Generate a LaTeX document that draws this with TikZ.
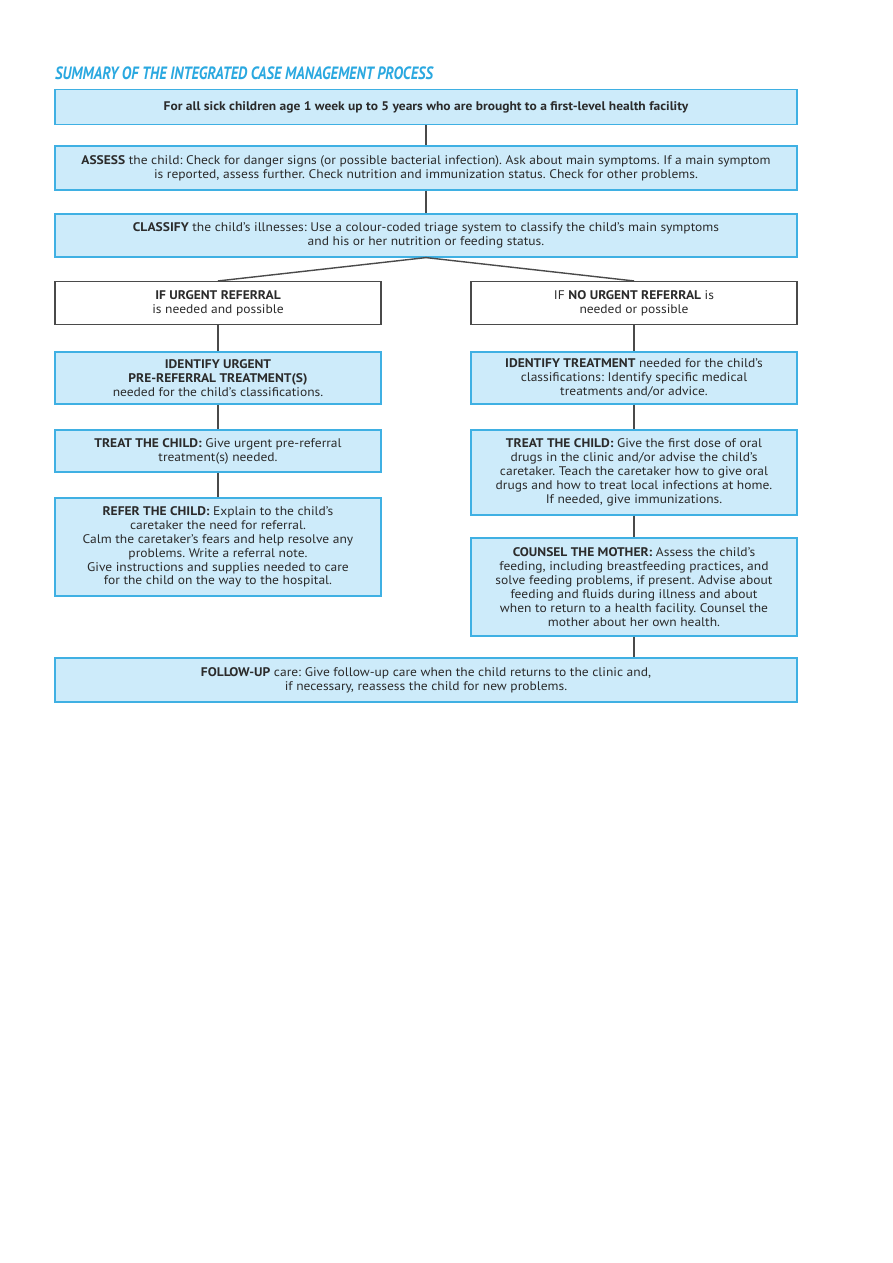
\documentclass[tikz,border=0pt]{standalone}
\usepackage{fontspec}
\setmainfont[FakeStretch=1.08]{PT Sans}
\newfontfamily\titlefont[FakeStretch=0.82]{PT Sans}
\definecolor{boxfill}{HTML}{CDEBFA}
\definecolor{boxline}{HTML}{3FB0E3}
\definecolor{titleblue}{HTML}{2AA8E0}
\definecolor{txt}{HTML}{2B2B2B}
\definecolor{conn}{HTML}{4A4A4A}
\frenchspacing
\begin{document}
\begin{tikzpicture}[x=1pt,y=-1pt,
  bluebox/.style={draw=boxline, line width=1.2pt, fill=boxfill, inner sep=0pt, align=center, text=txt,
    font=\fontsize{12.5}{13.9}\selectfont},
  whitebox/.style={draw=conn, line width=1.1pt, fill=white, inner sep=0pt, align=center, text=txt,
    font=\fontsize{12.5}{13.9}\selectfont},
  wide/.style={minimum width=742pt},
  half/.style={minimum width=326pt},
  conline/.style={draw=conn, line width=1.1pt}]
\useasboundingbox (0,0) rectangle (893,1263);
\fill[white] (0,0) rectangle (893,1263);
\node[anchor=base west, text=titleblue, inner sep=0pt, font=\titlefont\bfseries\itshape\fontsize{17.8}{19}\selectfont] (title) at (55,79.5) {SUMMARY OF THE INTEGRATED CASE MANAGEMENT PROCESS};

\node[bluebox, wide, minimum height=35pt] (b1) at (426,107) {\textbf{For all sick children age 1 week up to 5 years who are brought to a first-level health facility}};
\node[bluebox, wide, minimum height=44pt] (b2) at (426,168) {\textbf{ASSESS} the child: Check for danger signs (or possible bacterial infection). Ask about main symptoms. If a main symptom\\is reported, assess further. Check nutrition and immunization status. Check for other problems.};
\node[bluebox, wide, minimum height=43pt] (b3) at (426,235.5) {\textbf{CLASSIFY} the child’s illnesses: Use a colour-coded triage system to classify the child’s main symptoms\\and his or her nutrition or feeding status.};

\node[whitebox, half, minimum height=43pt] (lu) at (218,303) {\textbf{IF URGENT REFERRAL}\\is needed and possible};
\node[whitebox, half, minimum height=43pt] (ru) at (634,303) {IF \textbf{NO URGENT REFERRAL} is\\needed or possible};

\node[bluebox, half, minimum height=52pt] (l2) at (218,378) {\textbf{IDENTIFY URGENT}\\\textbf{PRE-REFERRAL TREATMENT(S)}\\needed for the child’s classifications.};
\node[bluebox, half, minimum height=42pt] (l3) at (218,451) {\textbf{TREAT THE CHILD:} Give urgent pre-referral\\treatment(s) needed.};
\node[bluebox, half, minimum height=98pt] (l4) at (218,547) {\textbf{REFER THE CHILD:} Explain to the child’s\\caretaker the need for referral.\\Calm the caretaker’s fears and help resolve any\\problems. Write a referral note.\\Give instructions and supplies needed to care\\for the child on the way to the hospital.};

\node[bluebox, half, minimum height=52pt] (r2) at (634,378) {\textbf{IDENTIFY TREATMENT} needed for the child’s\\classifications: Identify specific medical\\treatments and/or advice.};
\node[bluebox, half, minimum height=85pt] (r3) at (634,472.5) {\textbf{TREAT THE CHILD:} Give the first dose of oral\\drugs in the clinic and/or advise the child’s\\caretaker. Teach the caretaker how to give oral\\drugs and how to treat local infections at home.\\If needed, give immunizations.};
\node[bluebox, half, minimum height=98pt] (r4) at (634,587) {\textbf{COUNSEL THE MOTHER:} Assess the child’s\\feeding, including breastfeeding practices, and\\solve feeding problems, if present. Advise about\\feeding and fluids during illness and about\\when to return to a health facility. Counsel the\\mother about her own health.};

\node[bluebox, wide, minimum height=44pt] (b4) at (426,680) {\textbf{FOLLOW-UP} care: Give follow-up care when the child returns to the clinic and,\\if necessary, reassess the child for new problems.};

\draw[conline] (b1.south) -- (b2.north);
\draw[conline] (b2.south) -- (b3.north);
\draw[conline, line width=1.4pt] (b3.south) -- (lu.north);
\draw[conline, line width=1.4pt] (b3.south) -- (ru.north);
\draw[conline] (lu.south) -- (l2.north);
\draw[conline] (l2.south) -- (l3.north);
\draw[conline] (l3.south) -- (l4.north);
\draw[conline] (ru.south) -- (r2.north);
\draw[conline] (r2.south) -- (r3.north);
\draw[conline] (r3.south) -- (r4.north);
\draw[conline] (r4.south) -- (r4.south |- b4.north);
\end{tikzpicture}
\end{document}
